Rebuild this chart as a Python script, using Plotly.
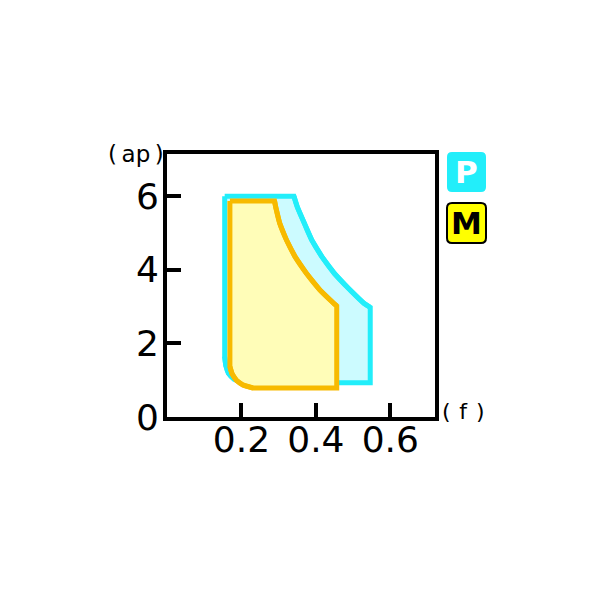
import plotly.graph_objects as go

# ---- data ----
# P region outline: top edge, curved right boundary, right edge, bottom, rounded corner, left edge
P_f = [0.155, 0.341, 0.350, 0.369, 0.389, 0.416, 0.450, 0.492, 0.529, 0.546, 0.546,
       0.210, 0.180, 0.165, 0.158, 0.155, 0.155]
P_ap = [6.00, 6.00, 5.71, 5.26, 4.81, 4.36, 3.90, 3.45, 3.09, 2.98, 0.93,
        0.93, 1.03, 1.19, 1.40, 1.64, 6.00]

M_f = [0.169, 0.289, 0.292, 0.303, 0.321, 0.344, 0.375, 0.411, 0.448, 0.456, 0.456,
       0.231, 0.204, 0.187, 0.175, 0.169, 0.169]
M_ap = [5.87, 5.87, 5.71, 5.26, 4.81, 4.36, 3.90, 3.45, 3.09, 3.02, 0.79,
        0.79, 0.87, 0.99, 1.17, 1.37, 5.87]

CURVE = slice(1, 10)     # indices of the curved boundary
CORNER = slice(11, 16)   # indices of the rounded bottom-left corner

x_ticks = [0.2, 0.4, 0.6]
x_labels = ["0.2", "0.4", "0.6"]
y_ticks = [0, 2, 4, 6]
y_labels = ["0", "2", "4", "6"]

legend_names = ["P", "M"]

# ---- styles ----
CYAN = "#22EEFA"
CYAN_FILL = "#CCFBFF"
GOLD = "#F7BA00"
YELLOW_FILL = "#FFFDB8"

W, H = 600, 600
OFF = 8  # page body offset
ML, MR, MT, MB = 167 - OFF, 165 + OFF, 154 - OFF, 183 + OFF
PW, PH = W - ML - MR, H - MT - MB


def px2paper(px, py):
    # page pixel -> paper coords
    fx, fy = px - OFF, py - OFF
    return (fx - ML) / PW, (H - MB - fy) / PH


def rounded_rect(x0, y0, x1, y1, r):
    def p(px, py):
        a, b = px2paper(px, py)
        return f"{a:.5f},{b:.5f}"
    return (f"M {p(x0 + r, y0)} L {p(x1 - r, y0)} Q {p(x1, y0)} {p(x1, y0 + r)} "
            f"L {p(x1, y1 - r)} Q {p(x1, y1)} {p(x1 - r, y1)} "
            f"L {p(x0 + r, y1)} Q {p(x0, y1)} {p(x0, y1 - r)} "
            f"L {p(x0, y0 + r)} Q {p(x0, y0)} {p(x0 + r, y0)} Z")


fig = go.Figure()


def add_region(fx, fy, line_color, fill_color, name):
    fig.add_trace(go.Scatter(x=fx, y=fy, mode="lines", fill="toself",
                             fillcolor=fill_color, line=dict(color=line_color, width=5),
                             name=name, hoverinfo="skip"))
    for sl in (CURVE, CORNER):
        fig.add_trace(go.Scatter(x=fx[sl], y=fy[sl], mode="lines",
                                 line=dict(color=line_color, width=5, shape="spline",
                                           smoothing=1.0),
                                 hoverinfo="skip", showlegend=False))


add_region(P_f, P_ap, CYAN, CYAN_FILL, legend_names[0])
add_region(M_f, M_ap, GOLD, YELLOW_FILL, legend_names[1])

axis_common = dict(showgrid=False, zeroline=False, showline=True, mirror=True,
                   linecolor="black", linewidth=4, ticks="inside", ticklen=14,
                   tickwidth=3.5, tickcolor="black",
                   tickfont=dict(family="DejaVu Sans", size=36, color="black"))

fig.update_xaxes(range=[0, 0.72], tickvals=x_ticks, ticktext=x_labels,
                 ticklabelstandoff=-12, **axis_common)
fig.update_yaxes(range=[0, 7.15], tickvals=y_ticks, ticktext=y_labels,
                 ticklabelstandoff=-3, **axis_common)

shapes = [
    dict(type="path", xref="paper", yref="paper",
         path=rounded_rect(447, 152, 486, 192, 5),
         fillcolor=CYAN, line=dict(width=0)),
    dict(type="path", xref="paper", yref="paper",
         path=rounded_rect(447, 203, 486, 243, 5),
         fillcolor="#FFFF00", line=dict(color="black", width=2)),
]

ann = []
px, py = px2paper(466.5, 172)
ann.append(dict(x=px, y=py, xref="paper", yref="paper", text="<b>" + legend_names[0] + "</b>",
                showarrow=False, xanchor="center", yanchor="middle",
                font=dict(family="DejaVu Sans", size=31, color="white")))
px, py = px2paper(466.5, 223)
ann.append(dict(x=px, y=py, xref="paper", yref="paper", text="<b>" + legend_names[1] + "</b>",
                showarrow=False, xanchor="center", yanchor="middle",
                font=dict(family="DejaVu Sans", size=31, color="black")))
px, py = px2paper(136, 154)
ann.append(dict(x=px, y=py, xref="paper", yref="paper", text="(\u2009ap\u2009)",
                showarrow=False, xanchor="center", yanchor="middle",
                font=dict(family="DejaVu Sans", size=23, color="black")))
px, py = px2paper(463, 411)
ann.append(dict(x=px, y=py, xref="paper", yref="paper", text="(\u2009\u2009f\u2009\u2009)",
                showarrow=False, xanchor="center", yanchor="middle",
                font=dict(family="DejaVu Sans", size=22, color="black")))

fig.update_layout(width=W, height=H, margin=dict(l=ML, r=MR, t=MT, b=MB),
                  paper_bgcolor="white", plot_bgcolor="white", showlegend=False,
                  shapes=shapes, annotations=ann)

fig.write_html("out.html")
